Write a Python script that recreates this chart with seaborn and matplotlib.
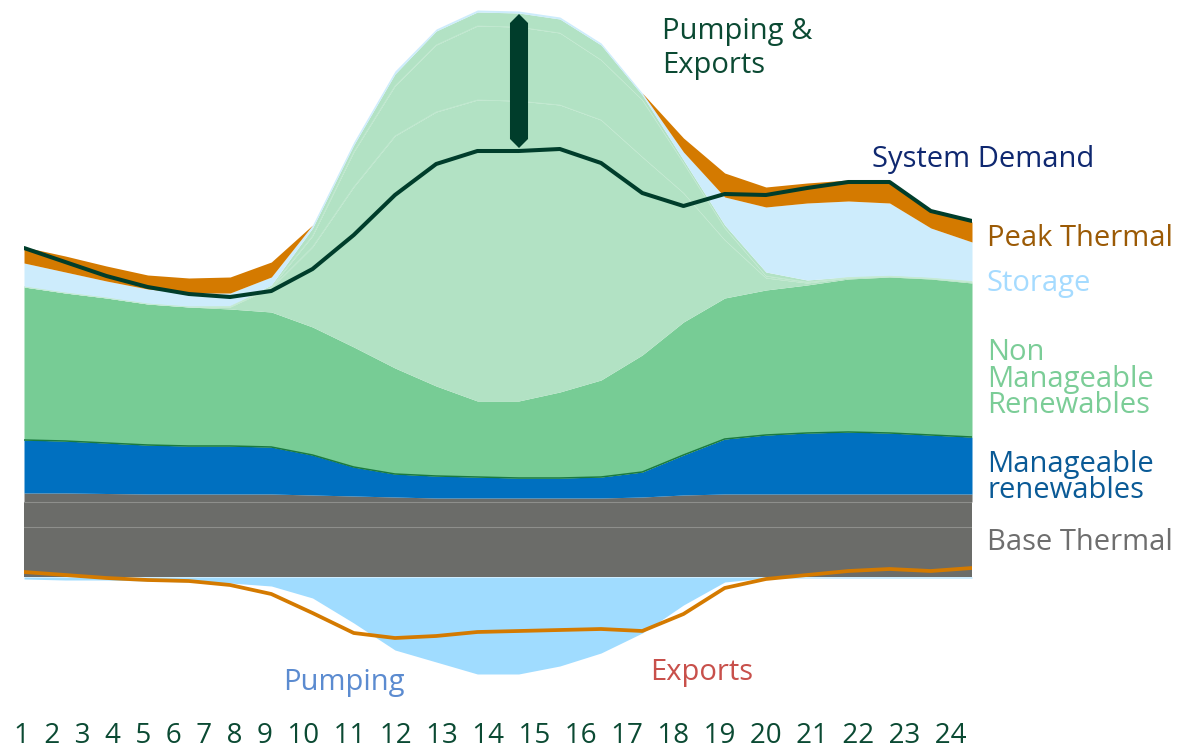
import matplotlib
matplotlib.use("Agg")
import matplotlib.pyplot as plt
import seaborn as sns

sns.set_theme(style="white")
plt.rcParams['font.family'] = ['Open Sans', 'DejaVu Sans']

# hourly values (GW-ish units)
hours = list(range(1, 25))

base_thermal_1 = [5.0, 5.0, 5.0, 5.0, 5.0, 5.0, 5.0, 5.0, 5.0, 5.0, 5.0, 5.0,
                  5.0, 5.0, 5.0, 5.0, 5.0, 5.0, 5.0, 5.0, 5.0, 5.0, 5.0, 5.0]
base_thermal_2 = [2.5, 2.5, 2.5, 2.5, 2.5, 2.5, 2.5, 2.5, 2.5, 2.5, 2.5, 2.5,
                  2.5, 2.5, 2.5, 2.5, 2.5, 2.5, 2.5, 2.5, 2.5, 2.5, 2.5, 2.5]
base_thermal_3 = [0.9, 0.9, 0.85, 0.8, 0.8, 0.8, 0.8, 0.7, 0.6, 0.5, 0.4, 0.4,
                  0.4, 0.4, 0.4, 0.5, 0.7, 0.8, 0.8, 0.8, 0.8, 0.8, 0.8, 0.8]
manageable = [5.3, 5.2, 5.05, 4.9, 4.8, 4.8, 4.7, 4.0, 2.9, 2.3, 2.2, 2.1,
              2.0, 2.0, 2.1, 2.5, 4.0, 5.5, 5.9, 6.1, 6.2, 6.1, 5.9, 5.7]
wind = [15.3, 14.8, 14.5, 14.1, 13.9, 13.7, 13.5, 12.8, 12.0, 10.6, 9.0, 7.6,
        7.7, 8.6, 9.7, 11.7, 13.3, 14.1, 14.5, 14.8, 15.3, 15.6, 15.6, 15.4]
solar_1 = [0, 0, 0, 0, 0, 0.2, 2.4, 8.0, 16.0, 23.2, 27.4, 30.1,
           30.0, 28.7, 26.0, 19.8, 12.9, 5.8, 1.2, 0.2, 0.1, 0.05, 0.05, 0.1]
solar_2 = [0, 0, 0, 0, 0, 0.05, 0.1, 1.1, 3.5, 5.0, 6.7, 7.4,
           7.4, 7.2, 6.0, 5.7, 3.0, 1.2, 0.2, 0.1, 0.05, 0.03, 0.03, 0.05]
solar_3 = [0, 0, 0, 0, 0, 0.05, 0.2, 0.8, 0.7, 1.2, 1.4, 1.4,
           1.4, 1.4, 1.5, 0.5, 0.3, 0.3, 0.4, 0.2, 0.05, 0.02, 0.02, 0.05]
storage = [2.4, 2.1, 1.7, 1.5, 1.4, 1.3, 0.8, 0.3, 0.3, 0.3, 0.2, 0.2,
           0.2, 0.2, 0.2, 0.2, 0.8, 2.8, 6.5, 7.7, 7.6, 7.3, 5.0, 3.9]
peak_thermal = [1.6, 1.6, 1.5, 1.4, 1.5, 1.6, 1.5, 0, 0, 0, 0, 0,
                0, 0, 0, 0, 1.4, 2.4, 2.0, 2.0, 2.1, 2.2, 1.8, 2.0]

demand = [32.9, 31.5, 30.1, 29.0, 28.3, 28.0, 28.6, 30.8, 34.2, 38.2, 41.3, 42.6,
          42.6, 42.8, 41.4, 38.4, 37.1, 38.3, 38.2, 38.9, 39.5, 39.5, 36.6, 35.6]
pumping = [-0.2, -0.3, -0.3, -0.4, -0.5, -0.6, -0.9, -2.1, -4.6, -7.3, -8.5, -9.7,
           -9.7, -8.9, -7.6, -5.6, -2.8, -0.5, -0.1, -0.1, -0.1, -0.1, -0.1, -0.1]
exports = [0.5, 0.2, -0.1, -0.3, -0.4, -0.8, -1.7, -3.6, -5.6, -6.1, -5.9, -5.5,
           -5.4, -5.3, -5.2, -5.4, -3.7, -1.1, -0.2, 0.2, 0.6, 0.8, 0.6, 0.9]

arrow_hour = 13

GREY = '#6b6c69'
BLUE = '#0070c0'
WIND = '#77cc95'
SOLAR = '#b2e2c4'
STORAGE = '#cdecfc'
PEAK = '#d47a00'
PUMP = '#a0dcff'
DARK = '#003d2b'

W, H = 1178, 750
fig = plt.figure(figsize=(W / 100, H / 100), dpi=100)
ax = fig.add_axes([24 / W, (H - 697) / H, 948 / W, 697 / H])

layers = [base_thermal_1, base_thermal_2, base_thermal_3, manageable, wind,
          solar_1, solar_2, solar_3, storage, peak_thermal]
colors = [GREY, GREY, GREY, BLUE, WIND, SOLAR, SOLAR, SOLAR, STORAGE, PEAK]
ax.stackplot(hours, *layers, colors=colors, linewidth=0)
ax.fill_between(hours, 0, pumping, color=PUMP, linewidth=0)

# running totals for the thin separator lines
tops = []
run = [0.0] * 24
for lay in layers:
    run = [a + b for a, b in zip(run, lay)]
    tops.append(run)

ax.plot(hours, tops[0], color='#8e8f8c', lw=0.8)
ax.plot(hours, tops[1], color='#8e8f8c', lw=0.8)
ax.plot(hours, tops[3], color='#1b7a3e', lw=1.1)
ax.plot(hours, tops[5], color='#c4eAd2', lw=0.5)
ax.plot(hours, tops[6], color='#c4eAd2', lw=0.5)

sns.lineplot(x=hours, y=demand, ax=ax, color=DARK, lw=2.9)
sns.lineplot(x=hours, y=exports, ax=ax, color=PEAK, lw=2.7)

# pumping & exports double arrow between demand and total supply
i = hours.index(arrow_hour)
lo = demand[i] + 0.3 + 0.9
hi = tops[-1][i] - 0.3 - 0.9
ax.plot([arrow_hour, arrow_hour], [lo, hi], color=DARK, lw=13,
        solid_capstyle='butt', marker='D', markersize=9.2,
        markeredgewidth=0)

ax.set_xlim(1, 24)
ax.set_ylim(-12, 57.7)
ax.set_axis_off()


def label(x, y, lines, color, step=26.5, size=21):
    for k, line in enumerate(lines):
        fig.text(x / W, 1 - (y + k * step) / H, line, color=color,
                 fontsize=size, va='baseline', ha='left')


label(662, 39, ['Pumping &', 'Exports'], '#0b4a33', step=34)
label(872, 167, ['System Demand'], '#0f2870')
label(987, 246, ['Peak Thermal'], '#9b5a05')
label(987, 291, ['Storage'], '#a5dbff')
label(987, 360, ['Non', 'Manageable', 'Renewables'], '#7bcd97')
label(987, 472, ['Manageable', 'renewables'], '#0a5a96')
label(987, 550, ['Base Thermal'], '#6e6e6e')
label(283, 690, ['Pumping'], '#5b8bd0')
label(650, 680, ['Exports'], '#c8504b')
label(14, 743, ['  '.join(str(h) for h in hours)], '#0b4a33', size=20)

fig.savefig('out.png', dpi=100)
